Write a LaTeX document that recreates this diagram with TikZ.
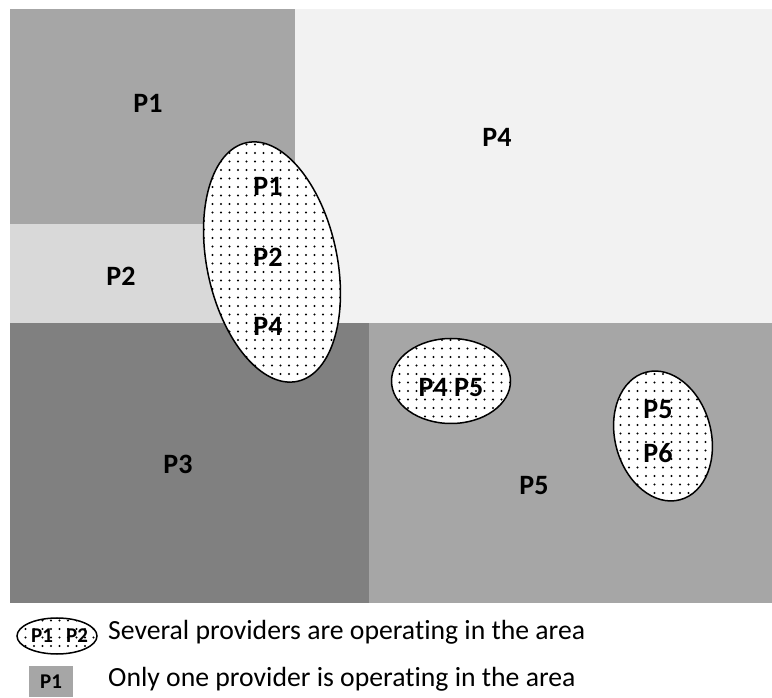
\documentclass[tikz,border=0pt]{standalone}
\usepackage{fontspec}
\setmainfont[Ligatures={NoCommon}]{Carlito}
\usetikzlibrary{patterns.meta}
\definecolor{gmid}{HTML}{A6A6A6}
\definecolor{glight}{HTML}{F2F2F2}
\definecolor{gpale}{HTML}{D9D9D9}
\definecolor{gdark}{HTML}{808080}
\tikzdeclarepattern{
  name=areadots,
  type=colored,
  bottom left={(-1.5pt,-1.5pt)},
  top right={(7pt,7pt)},
  tile size={(8.5pt,8.5pt)},
  code={\fill[black] (0pt,0pt) circle (1.15pt);}
}
\tikzset{
  lbl/.style={font=\bfseries\fontsize{28}{32}\selectfont},
  small/.style={font=\bfseries\fontsize{21}{24}\selectfont},
  legend/.style={font=\fontsize{27.7}{32}\selectfont,anchor=base west,inner sep=0pt},
  multi/.style={draw=black,line width=1.5pt,fill=white,postaction={pattern=areadots}}
}

\begin{document}
\begin{tikzpicture}[x=1pt,y=1pt]
\useasboundingbox (0,0) rectangle (772,697);
\fill[gmid] (10,473) rectangle (295,688);
\fill[glight] (295,374) rectangle (772,688);
\fill[gpale] (10,374) rectangle (295,473);
\fill[gdark] (10,94) rectangle (369,374);
\fill[gmid] (369,94) rectangle (772,374);

\node[lbl] (P1) at (148,594) {P1};
\node[lbl] (P4) at (497,560) {P4};
\node[lbl] (P2) at (121,421) {P2};
\node[lbl] (P3) at (178,233) {P3};
\node[lbl] (P5) at (534,211) {P5};

\draw[multi] (272,435) ellipse [x radius=65,y radius=122,rotate=12];
\node[lbl] (A1) at (268,511) {P1};
\node[lbl] (A2) at (268,440) {P2};
\node[lbl] (A4) at (268,371) {P4};

\draw[multi] (451,316) ellipse [x radius=59.5,y radius=42.5];
\node[lbl] (B45) at (451,309) {P4 P5};

\draw[multi] (663,261) ellipse [x radius=48,y radius=66,rotate=15];
\node[lbl] (C5) at (658,287) {P5};
\node[lbl] (C6) at (658,244) {P6};

\draw[multi] (57,61) ellipse [x radius=40,y radius=18];
\node[small] (L1) at (42,61) {P1};
\node[small] (L2) at (77,61) {P2};
\node[legend] (several) at (108,57) {Several providers are operating in the area};

\fill[gmid] (29,0) rectangle (73,31);
\node[small] (L3) at (51,15.5) {P1};
\node[legend] (only) at (108,11) {Only one provider is operating in the area};
\end{tikzpicture}
\end{document}
